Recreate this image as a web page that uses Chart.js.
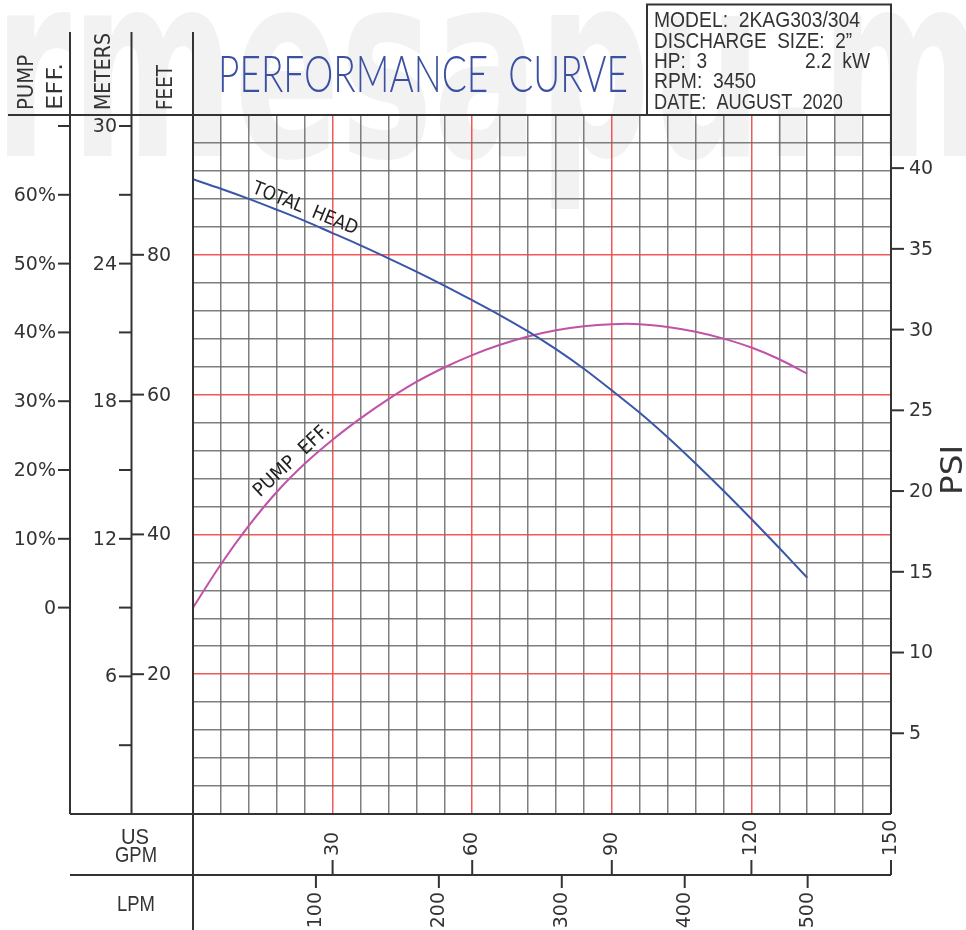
<!DOCTYPE html>
<html>
<head>
<meta charset="utf-8">
<script src="https://cdn.jsdelivr.net/npm/chart.js@4.4.0/dist/chart.umd.min.js"></script>
<style>
html, body { margin: 0; padding: 0; background: #fff; overflow: hidden; }
canvas { display: block; }
</style>
</head>
<body>
<canvas id="curveChart" width="966" height="930" style="width:966px;height:930px"></canvas>
<script>
// flow in US GPM, head in feet, efficiency in %
const gpm = [0, 6, 12, 18, 24, 30, 36, 42, 48, 54, 60, 66, 72, 78, 84, 90, 96, 102, 108, 114, 120, 126, 132];
const totalHeadFt = [90.8, 89.45, 88.0, 86.45, 84.85, 83.1, 81.35, 79.5, 77.6, 75.6, 73.5, 71.35, 69.05, 66.5, 63.7, 60.6, 57.4, 53.9, 50.15, 46.25, 42.2, 38.05, 33.8];
const pumpEffPct = [0, 6.3, 11.9, 16.8, 20.9, 24.4, 27.5, 30.3, 32.8, 34.9, 36.7, 38.2, 39.4, 40.3, 40.9, 41.2, 41.2, 40.8, 40.1, 39.1, 37.8, 36.1, 34.0];

const gpmTicks = [30, 60, 90, 120, 150];
const lpmTicks = [100, 200, 300, 400, 500];
const psiTicks = [5, 10, 15, 20, 25, 30, 35, 40];
const feetTicks = [20, 40, 60, 80];
const meterTicks = [3, 6, 9, 12, 15, 18, 21, 24, 27, 30];
const meterLabels = [6, 12, 18, 24, 30];
const effTicks = [0, 10, 20, 30, 40, 50, 60, 70];
const effLabels = ['0', '10%', '20%', '30%', '40%', '50%', '60%'];

const infoLines = ['MODEL:  2KAG303/304', 'DISCHARGE  SIZE:  2\u201D', 'HP:  3', 'RPM:  3450', 'DATE:  AUGUST  2020'];
const powerText = '2.2  kW';
const WATERMARK = 'rmesapu.m';

const INK = '#333333';
const GRID_GRAY = 'rgba(105,105,105,0.85)';
const GRID_RED = 'rgba(240,70,70,0.9)';
const FONT = '"DejaVu Sans", sans-serif';

function line(c, x1, y1, x2, y2, w) {
    c.beginPath();
    c.lineWidth = w || 2;
    c.strokeStyle = INK;
    c.moveTo(x1, y1);
    c.lineTo(x2, y2);
    c.stroke();
}

// draw text squeezed to a given width
function fitText(c, text, x, y, width, font, rot) {
    c.save();
    c.font = font;
    const m = c.measureText(text).width;
    c.translate(x, y);
    if (rot) c.rotate(rot);
    c.scale(width / m, 1);
    c.fillText(text, 0, 0);
    c.restore();
}

const paper = {
    id: 'paper',
    beforeDraw(chart) {
        const c = chart.ctx;
        c.save();
        c.fillStyle = '#ffffff';
        c.fillRect(0, 0, chart.width, chart.height);
        c.fillStyle = '#f2f2f2';
        c.textBaseline = 'alphabetic';
        fitText(c, WATERMARK, -6, 156, 990, 'bold 256px ' + FONT);
        c.restore();
    },
    afterDraw(chart) {
        const c = chart.ctx;
        const a = chart.chartArea;
        const X = chart.scales.x, E = chart.scales.eff, M = chart.scales.m,
              Y = chart.scales.y, P = chart.scales.psi, L = chart.scales.lpm;
        c.save();

        // frame
        line(c, 8, a.top, a.right, a.top, 2.2);
        line(c, a.right, a.top, a.right, a.bottom, 2);
        line(c, 70, a.bottom, a.right, a.bottom, 2);
        line(c, 70, 875, a.right, 875, 2);
        line(c, 70, 32, 70, a.bottom, 2);
        line(c, 131.5, 32, 131.5, a.bottom, 2);
        line(c, a.left, 32, a.left, 930, 2);
        c.lineWidth = 2;
        c.strokeRect(647, 4.5, a.right - 647, a.top - 4.5);

        c.fillStyle = INK;
        c.font = '19px ' + FONT;
        c.textBaseline = 'middle';

        // pump efficiency axis
        c.textAlign = 'right';
        effTicks.forEach((v, i) => {
            const y = E.getPixelForValue(v);
            line(c, 58, y, 70, y, 2);
            if (effLabels[i]) c.fillText(effLabels[i], 56, y + 1);
        });
        // meters axis
        meterTicks.forEach(v => {
            const y = M.getPixelForValue(v);
            line(c, 119, y, 131.5, y, 2);
            if (meterLabels.includes(v)) c.fillText(String(v), 117, y + 1);
        });
        // feet axis
        c.textAlign = 'left';
        feetTicks.forEach(v => {
            const y = Y.getPixelForValue(v);
            line(c, 131.5, y, 144, y, 2);
            c.fillText(String(v), 147, y + 1);
        });
        // psi axis
        psiTicks.forEach(v => {
            const y = P.getPixelForValue(v);
            line(c, a.right, y, 904, y, 2);
            c.fillText(String(v), 909, y + 1);
        });

        // bottom axes, labels rotated
        gpmTicks.forEach(v => {
            const x = X.getPixelForValue(v);
            line(c, x, 875, x, 860, 2);
            c.save();
            c.translate(x, 856);
            c.rotate(-Math.PI / 2);
            c.textAlign = 'left';
            c.fillText(String(v), 0, 0);
            c.restore();
        });
        lpmTicks.forEach(v => {
            const x = L.getPixelForValue(v);
            line(c, x, 875, x, 888, 2);
            c.save();
            c.translate(x, 892);
            c.rotate(-Math.PI / 2);
            c.textAlign = 'right';
            c.fillText(String(v), 0, 0);
            c.restore();
        });

        // column headers
        c.textBaseline = 'alphabetic';
        c.textAlign = 'left';
        const hf = '22px ' + FONT;
        fitText(c, 'PUMP', 33, 110, 55, hf, -Math.PI / 2);
        fitText(c, 'EFF.', 62, 110, 47, hf, -Math.PI / 2);
        fitText(c, 'METERS', 110, 110, 77, hf, -Math.PI / 2);
        fitText(c, 'FEET', 172, 110, 45, hf, -Math.PI / 2);
        fitText(c, 'PSI', 962, 495, 50, '30px ' + FONT, -Math.PI / 2);

        const nf = '22px "Liberation Sans", sans-serif';
        fitText(c, 'US', 121, 844, 28, nf);
        fitText(c, 'GPM', 115, 862, 42, nf);
        fitText(c, 'LPM', 117, 911, 38, nf);

        // info box
        const ib = [[27, 206], [48, 198], [68, 53], [88, 102], [109, 189]];
        infoLines.forEach((t, i) => fitText(c, t, 654, ib[i][0], ib[i][1], nf));
        fitText(c, powerText, 805, 68, 65, nf);

        // title
        c.fillStyle = '#3c50a3';
        fitText(c, 'PERFORMANCE  CURVE', 218, 92, 410, '300 52px Lato, ' + FONT);

        // curve labels
        c.fillStyle = '#222';
        c.textAlign = 'center';
        c.textBaseline = 'middle';
        c.save();
        c.translate(305, 209);
        c.rotate(22 * Math.PI / 180);
        c.font = '19px ' + FONT;
        let w = c.measureText('TOTAL  HEAD').width;
        c.scale(112 / w, 1);
        c.fillText('TOTAL  HEAD', 0, 0);
        c.restore();
        c.save();
        c.translate(292, 461);
        c.rotate(-43 * Math.PI / 180);
        c.font = '19px ' + FONT;
        w = c.measureText('PUMP  EFF.').width;
        c.scale(97 / w, 1);
        c.fillText('PUMP  EFF.', 0, 0);
        c.restore();

        c.restore();
    }
};

function gridColor(major) {
    return function (ctx) {
        const v = ctx.tick.value;
        if (v === 0 || v === ctx.scale.max) return 'rgba(0,0,0,0)';
        return v % major === 0 ? GRID_RED : GRID_GRAY;
    };
}

const ctx = document.getElementById('curveChart').getContext('2d');
new Chart(ctx, {
    type: 'line',
    data: {
        datasets: [{
            label: 'Total Head',
            data: gpm.map((g, i) => ({ x: g, y: totalHeadFt[i] })),
            borderColor: '#3a56a8',
            borderWidth: 2,
            pointRadius: 0,
            fill: false,
            tension: 0.3,
            xAxisID: 'x',
            yAxisID: 'y'
        }, {
            label: 'Pump Eff.',
            data: gpm.map((g, i) => ({ x: g, y: pumpEffPct[i] })),
            borderColor: '#c052a8',
            borderWidth: 2,
            pointRadius: 0,
            fill: false,
            tension: 0.3,
            xAxisID: 'x',
            yAxisID: 'eff'
        }]
    },
    options: {
        responsive: false,
        animation: false,
        layout: { padding: { left: 193, top: 115, right: 75, bottom: 116 } },
        plugins: { legend: { display: false }, tooltip: { enabled: false } },
        scales: {
            x: {
                type: 'linear', min: 0, max: 150,
                ticks: { display: false, stepSize: 6 },
                grid: { drawTicks: false, lineWidth: 1.5, color: gridColor(30) },
                border: { display: false }
            },
            y: {
                type: 'linear', min: 0, max: 100,
                ticks: { display: false, stepSize: 4 },
                grid: { drawTicks: false, lineWidth: 1.5, color: gridColor(20) },
                border: { display: false }
            },
            eff: { type: 'linear', axis: 'y', position: 'left', display: false, min: -30, max: (100 * 0.3048 - 9) * 10 / 3 },
            m: { type: 'linear', axis: 'y', position: 'left', display: false, min: 0, max: 30.48 },
            psi: { type: 'linear', axis: 'y', position: 'right', display: false, min: 0, max: 100 / 2.31 },
            lpm: { type: 'linear', axis: 'x', position: 'bottom', display: false, min: 0, max: 150 * 3.78541 }
        }
    },
    plugins: [paper]
});
</script>
</body>
</html>
